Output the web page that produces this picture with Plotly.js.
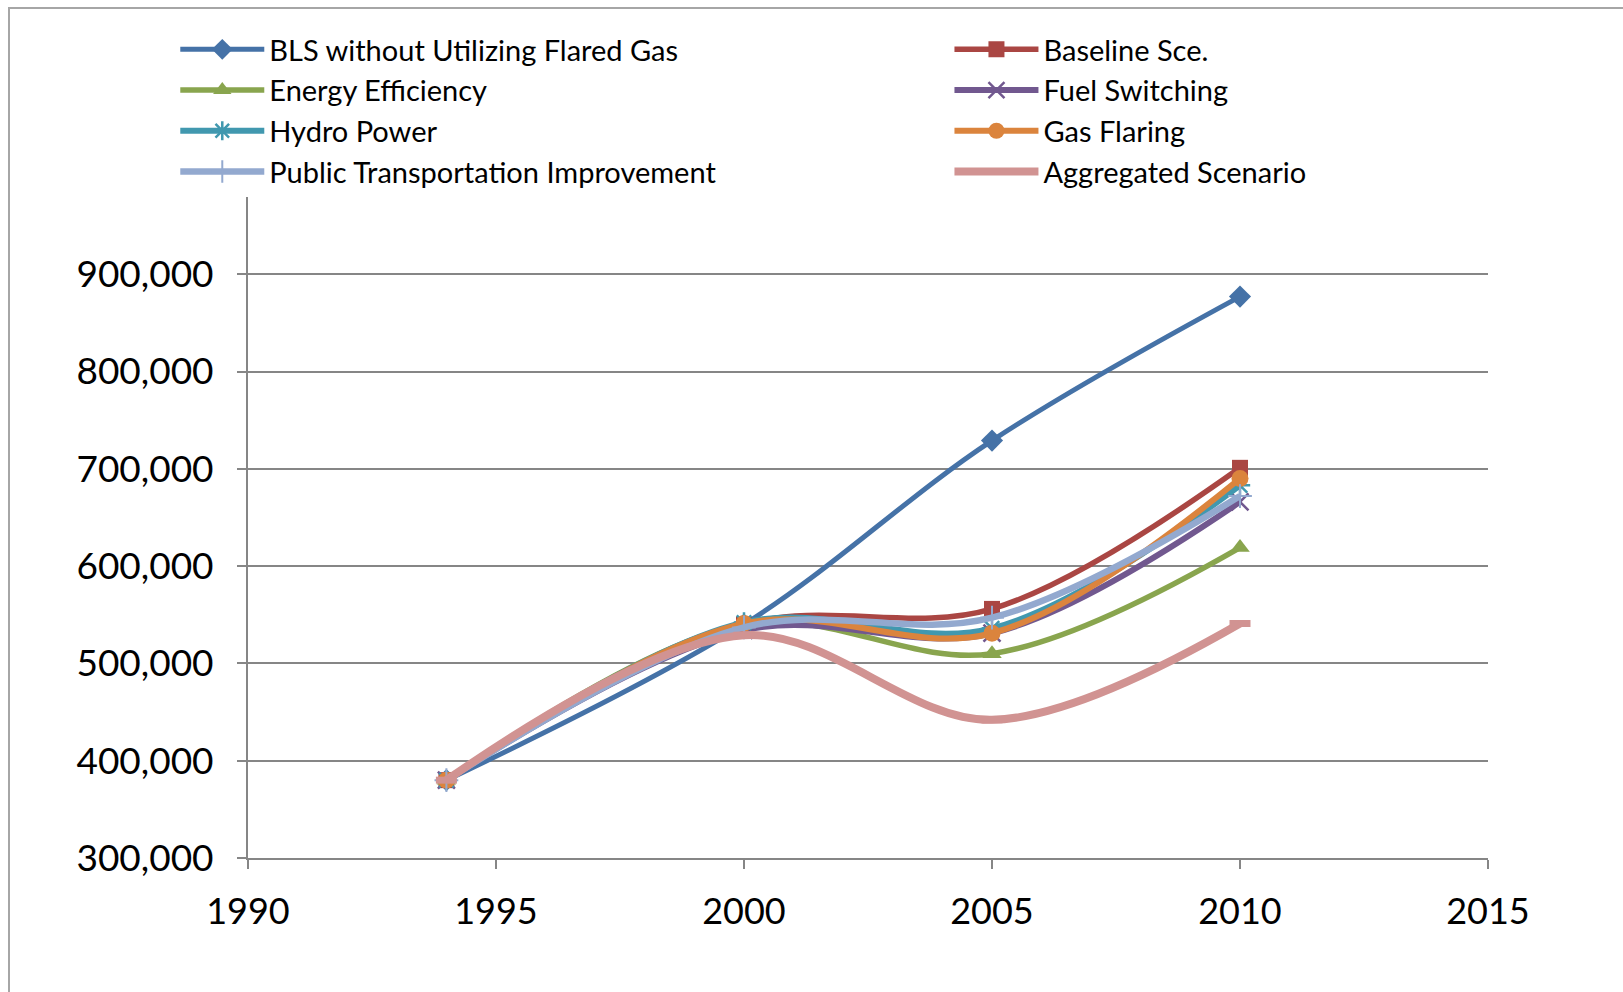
<!DOCTYPE html>
<html>
<head>
<meta charset="utf-8">
<script src="https://cdn.plot.ly/plotly-3.0.1.min.js"></script>
<style>
  html, body { margin: 0; padding: 0; background: #fff; overflow: hidden; }
  #wrap { position: relative; width: 1623px; height: 992px; }
  #frame { position: absolute; left: 8px; top: 7px; width: 1700px; height: 1100px; border: 2px solid #a6a6a6; box-sizing: border-box; pointer-events: none; }
  #chart { position: absolute; left: 0; top: 0; width: 1623px; height: 992px; }
</style>
</head>
<body>
<div id="wrap">
  <div id="chart"></div>
  <div id="frame"></div>
</div>
<script>
const years = [1994, 2000, 2005, 2010];

const blsWithoutFlaredGas   = [380000, 540000, 729000, 877000];
const baselineSce           = [380000, 540000, 556000, 701000];
const energyEfficiency      = [380000, 540000, 510000, 619000];
const fuelSwitching         = [380000, 534000, 531000, 666000];
const hydroPower            = [380000, 542000, 536000, 683000];
const gasFlaring            = [380000, 541000, 531000, 690000];
const publicTransportation  = [380000, 537000, 547000, 672000];
const aggregatedScenario    = [380000, 529000, 442000, 541000];

const seriesNames = [
  "BLS without Utilizing Flared Gas",
  "Baseline Sce.",
  "Energy Efficiency",
  "Fuel Switching",
  "Hydro Power",
  "Gas Flaring",
  "Public Transportation Improvement",
  "Aggregated Scenario"
];

const xTickValues = [1990, 1995, 2000, 2005, 2010, 2015];
const yTickValues = [300000, 400000, 500000, 600000, 700000, 800000, 900000];
const yTickLabels = ["300,000", "400,000", "500,000", "600,000", "700,000", "800,000", "900,000"];

const FONT = "Lato, 'Open Sans', sans-serif";

function mk(name, y, color, width, symbol, msize, legendId, mline) {
  const marker = { symbol: symbol, size: msize, color: color };
  if (mline) marker.line = { color: color, width: mline };
  return {
    type: 'scatter', mode: 'lines+markers', name: name,
    x: years, y: y,
    line: { color: color, width: width, shape: 'spline', smoothing: 1 },
    marker: marker,
    legend: legendId,
    hoverinfo: 'skip'
  };
}

const traces = [
  mk(seriesNames[0], blsWithoutFlaredGas, '#4572A7', 5, 'diamond', 17, 'legend'),
  mk(seriesNames[1], baselineSce, '#AA4643', 5.5, 'square', 16, 'legend2'),
  mk(seriesNames[2], energyEfficiency, '#89A54E', 5.5, 'triangle-up', 17, 'legend'),
  mk(seriesNames[3], fuelSwitching, '#71588F', 6, 'x-thin-open', 17, 'legend2', 2.5),
  mk(seriesNames[4], hydroPower, '#4198AF', 6, 'asterisk-open', 17, 'legend', 2.5),
  mk(seriesNames[5], gasFlaring, '#DB843D', 6, 'circle', 17, 'legend2'),
  mk(seriesNames[6], publicTransportation, '#93A9CF', 6.5, 'cross-thin-open', 17, 'legend', 2),
  mk(seriesNames[7], aggregatedScenario, '#D19392', 8, 'line-ew-open', 15, 'legend2', 7)
];

const legendCommon = {
  orientation: 'v',
  xref: 'container', yref: 'container',
  yanchor: 'top', xanchor: 'left',
  bgcolor: 'rgba(255,255,255,1)',
  borderwidth: 0,
  font: { family: FONT, size: 29, color: '#000' },
  itemwidth: 84,
  tracegroupgap: 0,
  traceorder: 'normal'
};

const layout = {
  width: 1623, height: 992,
  paper_bgcolor: 'rgba(0,0,0,0)',
  plot_bgcolor: 'rgba(0,0,0,0)',
  margin: { l: 248, r: 134.5, t: 188, b: 134, autoexpand: false },
  showlegend: true,
  font: { family: FONT, color: '#000' },
  xaxis: {
    range: [1990, 2015],
    tickvals: xTickValues,
    ticktext: xTickValues.map(String),
    tickangle: 0,
    automargin: false,
    showgrid: false, zeroline: false,
    showline: true, linecolor: '#868686', linewidth: 2,
    ticks: 'outside', ticklen: 9, tickwidth: 2, tickcolor: '#868686',
    tickfont: { family: FONT, size: 36, color: '#000' },
    ticklabelstandoff: 12
  },
  yaxis: {
    range: [300000, 988600],
    tickvals: yTickValues,
    ticktext: yTickLabels,
    automargin: false,
    showgrid: true, gridcolor: '#868686', gridwidth: 2,
    zeroline: false,
    showline: true, linecolor: '#868686', linewidth: 2,
    ticks: 'outside', ticklen: 9, tickwidth: 2, tickcolor: '#868686',
    tickfont: { family: FONT, size: 37, color: '#000' },
    ticklabelstandoff: 16
  },
  legend: Object.assign({}, legendCommon, { x: 0.108, y: 1 - 24 / 992 }),
  legend2: Object.assign({}, legendCommon, { x: 0.585, y: 1 - 24 / 992 })
};

Plotly.newPlot('chart', traces, layout, { displayModeBar: false, staticPlot: true });
</script>
</body>
</html>
